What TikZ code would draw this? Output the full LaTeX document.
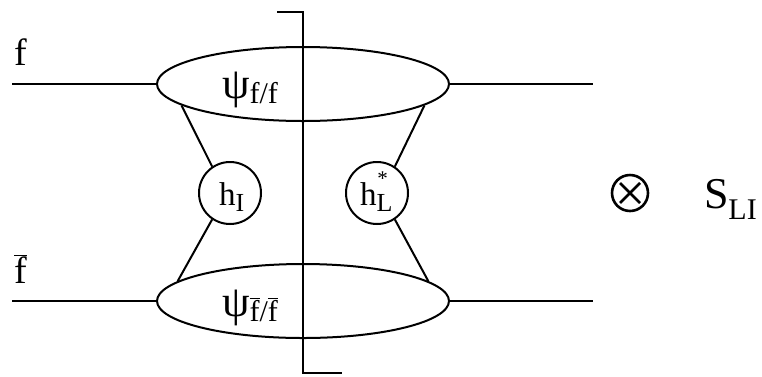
\documentclass[tikz,border=0pt]{standalone}
\usepackage{fontspec}
\setmainfont{Liberation Serif}
\usetikzlibrary{shapes.geometric}
\newcommand{\fbarsym}{\ensuremath{\overline{\mbox{f}}}}
\begin{document}
\begin{tikzpicture}[x=1pt,y=-1pt,line width=2pt,
  blob/.style={draw,ellipse,minimum width=292pt,minimum height=74pt,inner sep=0pt},
  vertex/.style={draw,circle,minimum size=62pt,inner sep=0pt},
  lbl/.style={inner sep=0pt,anchor=base west}]
\useasboundingbox (0,0) rectangle (762,376);

% amplitude blobs
\node[blob] (top) at (303,84) {};
\node[blob] (bot) at (303,301) {};

% vertices on either side of the cut
\node[vertex] (hl) at (230,193) {};
\node[vertex] (hr) at (377,193) {};
\node[lbl] at (218,205) {\fontsize{33}{33}\selectfont h\raisebox{-6pt}{\fontsize{26}{26}\selectfont I}};
\node[lbl] at (359,205) {\fontsize{33}{33}\selectfont h\raisebox{-6pt}{\fontsize{26}{26}\selectfont L}\hspace{-15pt}\raisebox{20pt}{\fontsize{21}{21}\selectfont *}};

% external legs
\coordinate (tl) at (12,84);
\coordinate (tr) at (593,84);
\coordinate (bl) at (12,301);
\coordinate (br) at (593,301);
\draw (tl) -- (top.west);
\draw (top.east) -- (tr);
\draw (bl) -- (bot.west);
\draw (bot.east) -- (br);

% legs joining blobs and vertices
\draw (top.190) -- (hl.124);
\draw (hl.236) -- (bot.171);
\draw (top.350) -- (hr.56);
\draw (hr.304) -- (bot.9);

% final-state cut
\coordinate (c1) at (278,12);
\coordinate (c2) at (303,12);
\coordinate (c3) at (303,373);
\coordinate (c4) at (341,373);
\draw[line cap=rect] (c1) -- (c2) -- (c3) -- (c4);

% labels
\node[lbl] at (13,65) {\fontsize{38}{38}\selectfont f};
\node[lbl] at (13,283) {\fontsize{38}{38}\selectfont \fbarsym};
\node[lbl] at (221,98) {\fontsize{44}{44}\selectfont ψ\raisebox{-5pt}{\fontsize{30}{30}\selectfont f/f}};
\node[lbl] at (221,316) {\fontsize{44}{44}\selectfont ψ\raisebox{-5pt}{\fontsize{30}{30}\selectfont \fbarsym/\fbarsym}};

% tensor product sign
\node[circle,draw,line width=2.6pt,minimum size=36pt,inner sep=0pt] (ot) at (630,193) {};
\draw[line width=2.6pt] (ot.center) ++(-10,-10) -- ++(20,20);
\draw[line width=2.6pt] (ot.center) ++(-10,10) -- ++(20,-20);
\node[lbl] at (703,208) {\fontsize{44}{44}\selectfont S\raisebox{-11pt}{\fontsize{30}{30}\selectfont LI}};
\end{tikzpicture}
\end{document}
